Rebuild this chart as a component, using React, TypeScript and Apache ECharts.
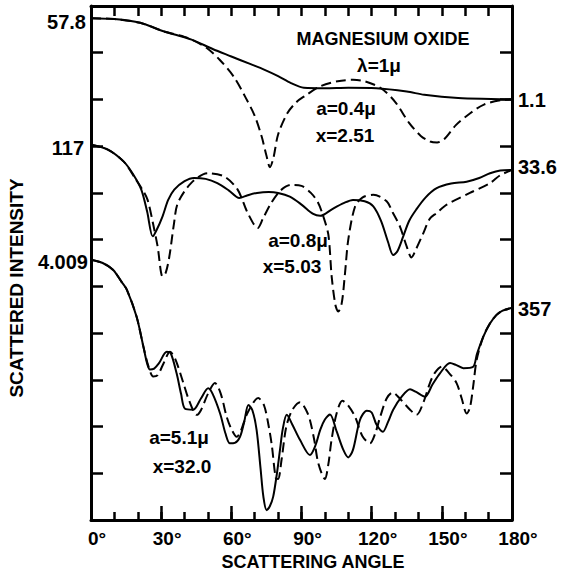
import React, { useEffect, useRef } from "react";
import * as echarts from "echarts";

// angle (deg) vs. offset plot units (0..11 frame height)
const topSolid: [number, number][] = [
  [0, 10.74], [10, 10.72], [21, 10.64], [31, 10.46], [43, 10.28], [52, 10.08], [60, 9.92], [68, 9.76], [74, 9.64],
  [80, 9.5], [85.5, 9.35], [91, 9.25], [100, 9.24], [110, 9.25], [122, 9.24], [135, 9.17], [142.5, 9.1], [157, 9.03],
  [171, 9.01], [180, 9.0],
];
const topDashed: [number, number][] = [
  [0, 10.74], [10, 10.72], [21, 10.64], [31, 10.46], [40, 10.34], [44, 10.26], [49.5, 10.1], [55, 9.85], [61, 9.49],
  [66, 9.05], [70, 8.65], [73, 8.2], [75, 7.8], [76.5, 7.55], [78, 7.75], [80, 8.25], [84, 8.71], [88, 8.95],
  [91, 9.06], [98, 9.28], [105.5, 9.39], [112, 9.42], [117, 9.39], [124, 9.24], [130, 8.95], [136, 8.5], [141, 8.22],
  [145, 8.1], [148, 8.08], [151, 8.15], [156, 8.45], [162, 8.7], [168, 8.89], [176, 8.99], [180, 9.0],
];
const midSolid: [number, number][] = [
  [0, 8.03], [7, 7.93], [14, 7.67], [18, 7.4], [21.5, 7.07], [24, 6.6], [26.4, 6.07], [28, 6.2], [30.6, 6.5],
  [33, 6.85], [35.6, 7.07], [40, 7.25], [44, 7.32], [49, 7.3], [54, 7.21], [59, 7.05], [63.4, 6.89], [67, 6.95],
  [71, 7.0], [76, 7.02], [80, 7.0], [85, 6.92], [90, 6.75], [95, 6.55], [98, 6.51], [103, 6.65], [108, 6.78],
  [112, 6.85], [117, 6.82], [120.7, 6.71], [124, 6.4], [127, 5.95], [129.2, 5.67], [131, 5.75], [133.5, 6.07],
  [136, 6.4], [139, 6.64], [143, 6.9], [147.8, 7.1], [154, 7.2], [160.6, 7.24], [166, 7.32], [170.6, 7.42],
  [175, 7.48], [180, 7.49],
];
const midDashed: [number, number][] = [
  [0, 8.03], [7, 7.93], [14, 7.67], [19, 7.3], [22, 7.07], [24.2, 6.85], [26.5, 6.35], [28.5, 5.85], [30.6, 5.21],
  [32, 5.3], [33.5, 5.64], [35.5, 6.35], [37.1, 6.78], [42.8, 7.21], [49.9, 7.42], [57, 7.35], [62.7, 7.07],
  [67, 6.57], [71.3, 6.25], [73.5, 6.45], [77, 6.78], [81, 7.05], [85.5, 7.17], [90, 7.15], [94, 7.0], [97, 6.8],
  [99.3, 6.5], [101.5, 6.1], [102.9, 5.21], [104.5, 4.6], [105.7, 4.46], [107.2, 4.64], [108.6, 5.28], [110, 6.0],
  [112.9, 6.71], [116, 6.9], [120.7, 6.96], [126.4, 6.82], [129, 6.58], [132.1, 6.28], [135, 5.85], [137, 5.62],
  [139, 5.8], [142.1, 6.14], [144.9, 6.45], [147.8, 6.57], [152.1, 6.75], [162, 7.0], [170.6, 7.21], [175, 7.38],
  [180, 7.49],
];
const lowSolid: [number, number][] = [
  [0, 5.57], [5, 5.5], [9.5, 5.35], [13, 5.1], [15.3, 4.93], [19.5, 4.35], [22.4, 3.71], [24, 3.35], [25.2, 3.22],
  [27, 3.24], [29, 3.35], [32.4, 3.6], [34, 3.58], [36.6, 3.14], [38.5, 2.7], [40.2, 2.38], [43.7, 2.36], [47, 2.6],
  [50.1, 2.82], [52, 2.7], [55.2, 2.28], [57.5, 1.85], [59.4, 1.64], [61.5, 1.65], [63.7, 1.78], [65.5, 2.1],
  [67.3, 2.46], [69, 2.35], [70.8, 1.93], [72.5, 1.1], [73.7, 0.5], [75.1, 0.21], [76.5, 0.3], [77.9, 0.5],
  [79.5, 1.0], [80.8, 1.5], [82, 1.95], [83.7, 2.25], [86, 2.05], [89.4, 1.71], [93.6, 1.39], [96, 1.6], [98, 1.93],
  [100, 2.15], [102.2, 2.26], [105, 1.9], [107.9, 1.5], [110, 1.34], [112, 1.5], [115, 2.14], [117.9, 2.34],
  [120, 2.3], [122, 2.05], [124.8, 1.89], [127, 2.1], [129.2, 2.36], [133, 2.65], [136.4, 2.8], [139, 2.74],
  [142.8, 2.64], [146, 2.9], [149.2, 3.14], [153.5, 3.36], [156, 3.32], [159.2, 3.25], [163.4, 3.28], [165, 3.55],
  [167.7, 3.92], [170.5, 4.2], [173.4, 4.39], [176, 4.48], [180, 4.54],
];
const lowDashed: [number, number][] = [
  [0, 5.57], [5, 5.5], [9.5, 5.35], [13, 5.1], [15.3, 4.93], [19.5, 4.35], [22.4, 3.71], [24.5, 3.3], [26.6, 3.07],
  [28.5, 3.1], [31, 3.35], [33.8, 3.6], [36, 3.45], [39.5, 2.93], [42, 2.55], [45.2, 2.25], [47, 2.35], [50, 2.7],
  [53, 2.93], [55.5, 2.7], [58, 2.21], [60, 1.95], [62.3, 1.78], [64, 1.9], [67, 2.3], [71.5, 2.61], [74, 2.45],
  [76, 2.0], [77.3, 1.6], [79, 0.9], [80, 0.88], [81.5, 1.3], [83.5, 2.0], [86, 2.35], [89.4, 2.52], [92, 2.35],
  [93.6, 2.14], [95.5, 1.7], [97.2, 1.21], [100, 0.88], [101.5, 1.2], [102.8, 1.7], [105, 2.28], [107.5, 2.55],
  [110, 2.45], [113, 2.2], [116, 1.8], [119.3, 1.64], [121.5, 1.85], [123.6, 2.2], [126.4, 2.6], [129, 2.73],
  [132, 2.6], [136.4, 2.36], [139.2, 2.25], [142, 2.5], [144.9, 2.93], [147, 3.15], [150, 3.28], [153, 3.15],
  [156.3, 2.93], [158.5, 2.6], [160.6, 2.28], [162, 2.4], [163.4, 2.86], [164.9, 3.43], [167.7, 3.92], [170.5, 4.2],
  [173.4, 4.39], [176, 4.48], [180, 4.54],
];

const leftLabels = ["57.8", "117", "4.009"];
const rightLabels = ["1.1", "33.6", "357"];
const xTitle = "SCATTERING ANGLE";
const yTitle = "SCATTERED INTENSITY";

const FONT = '"Liberation Sans", Arial, sans-serif';

export default function App() {
  const ref = useRef<HTMLDivElement>(null);
  useEffect(() => {
    if (!ref.current) return;
    const chart = echarts.init(ref.current, undefined, { renderer: "svg" });
    const axisLineStyle = { color: "#000", width: 3 };
    const tickStyle = { color: "#000", width: 2.5 };
    const txt = (text: string, x: number, y: number, size: number, align = "center", extra: any = {}) => ({
      type: "text",
      x,
      y,
      ...extra,
      style: {
        text,
        fill: "#000",
        font: `bold ${size}px ${FONT}`,
        align,
        verticalAlign: "middle",
        textAlign: align,
        textVerticalAlign: "middle",
      },
    });
    const line = (data: [number, number][], dashed: boolean) => ({
      type: "line",
      data,
      xAxisIndex: 0,
      yAxisIndex: 0,
      showSymbol: false,
      symbol: "none",
      smooth: 0.3,
      clip: false,
      lineStyle: { color: "#000", width: 2, type: dashed ? [10, 5] : "solid" },
    });
    chart.setOption({
      animation: false,
      backgroundColor: "#fff",
      grid: { left: 91, right: 54, top: 6, bottom: 54 },
      xAxis: [
        {
          type: "value", min: 0, max: 180, interval: 10, position: "bottom",
          axisLine: { show: true, onZero: false, lineStyle: axisLineStyle },
          axisTick: { show: true, inside: true, length: 8, lineStyle: tickStyle },
          axisLabel: { show: false }, splitLine: { show: false },
        },
        {
          type: "value", min: 0, max: 180, interval: 30, position: "bottom",
          axisLine: { show: false, onZero: false },
          axisTick: { show: true, inside: true, length: 14, lineStyle: tickStyle },
          axisLabel: {
            show: true, formatter: "{value}°", margin: 9, fontSize: 19, fontWeight: "bold",
            fontFamily: FONT, color: "#000", padding: [0, 0, 0, 12], showMinLabel: true, showMaxLabel: true,
          },
          splitLine: { show: false },
        },
        {
          type: "value", min: 0, max: 180, interval: 10, position: "top",
          axisLine: { show: true, onZero: false, lineStyle: axisLineStyle },
          axisTick: { show: true, inside: true, length: 10, lineStyle: tickStyle },
          axisLabel: { show: false }, splitLine: { show: false },
        },
      ],
      yAxis: [
        {
          type: "value", min: 0, max: 11, interval: 1, position: "left",
          axisLine: { show: true, onZero: false, lineStyle: axisLineStyle },
          axisTick: { show: true, inside: true, length: 12, lineStyle: tickStyle },
          axisLabel: { show: false }, splitLine: { show: false },
        },
        {
          type: "value", min: 0, max: 11, interval: 1, position: "right",
          axisLine: { show: true, onZero: false, lineStyle: axisLineStyle },
          axisTick: { show: true, inside: true, length: 12, lineStyle: tickStyle },
          axisLabel: { show: false }, splitLine: { show: false },
        },
      ],
      series: [
        line(topSolid, false),
        line(topDashed, true),
        line(midSolid, false),
        line(midDashed, true),
        line(lowSolid, false),
        line(lowDashed, true),
      ],
      graphic: [
        txt(leftLabels[0], 86, 22, 20, "right"),
        txt(leftLabels[1], 84, 148, 20, "right"),
        txt(leftLabels[2], 88, 262, 20, "right"),
        txt(rightLabels[0], 518, 100, 20, "left"),
        txt(rightLabels[1], 518, 167, 20, "left"),
        txt(rightLabels[2], 518, 309, 20, "left"),
        txt("MAGNESIUM OXIDE", 383, 39, 18),
        txt("λ=1μ", 379, 65, 19),
        txt("a=0.4μ", 346, 108, 19),
        txt("x=2.51", 345, 135, 19),
        txt("a=0.8μ", 298, 240, 19),
        txt("x=5.03", 292, 266, 19),
        txt("a=5.1μ", 179, 437, 19),
        txt("x=32.0", 182, 466, 19),
        txt(xTitle, 313, 562, 18),
        txt(yTitle, 16, 288, 19, "center", { rotation: Math.PI / 2 }),
      ],
    });
    return () => chart.dispose();
  }, []);
  return (
    <div
      ref={ref}
      style={{ position: "fixed", left: 0, top: 0, width: 566, height: 574, background: "#fff" }}
    />
  );
}
